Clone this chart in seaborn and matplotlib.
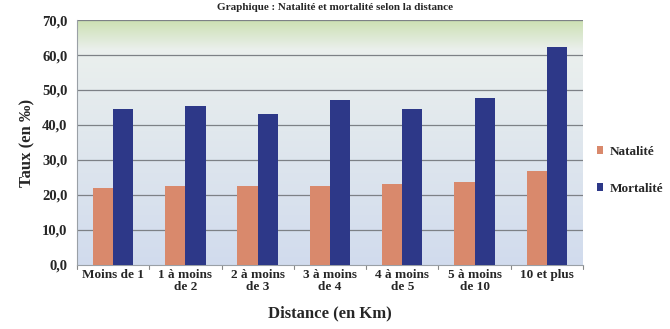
import numpy as np
import pandas as pd
import matplotlib
matplotlib.use("Agg")
import matplotlib.pyplot as plt
import seaborn as sns

categories = ["Moins de 1", "1 à moins\nde 2", "2 à moins\nde 3", "3 à moins\nde 4",
              "4 à moins\nde 5", "5 à moins\nde 10", "10 et plus"]
natalite = [22.1, 22.5, 22.6, 22.6, 23.0, 23.6, 26.8]
mortalite = [44.6, 45.4, 43.2, 47.0, 44.6, 47.6, 62.4]
series_names = ["Natalité", "Mortalité"]
yticks = [0, 10, 20, 30, 40, 50, 60, 70]
ytick_labels = ["0,0", "10,0", "20,0", "30,0", "40,0", "50,0", "60,0", "70,0"]

df = pd.DataFrame({
    "Distance": categories * 2,
    "Taux": natalite + mortalite,
    "Série": [series_names[0]] * len(categories) + [series_names[1]] * len(categories),
})

sns.set_style("white")
plt.rcParams["font.family"] = ["Liberation Serif", "DejaVu Serif"]
plt.rcParams["font.weight"] = "bold"

fig = plt.figure(figsize=(6.70, 3.29), dpi=100)
ax = fig.add_axes([0.115, 0.195, 0.755, 0.744])

# background gradient (green top band -> light blue-gray)
grad = np.ones((256, 1, 3))
top = np.array([0.80, 0.88, 0.70])
mid = np.array([0.92, 0.94, 0.93])
bot = np.array([0.82, 0.86, 0.93])
t = np.linspace(0, 1, 256)
for i, v in enumerate(t):
    if v < 0.12:
        c = top + (mid - top) * (v / 0.12)
    else:
        c = mid + (bot - mid) * ((v - 0.12) / 0.88)
    grad[i, 0] = c
ax.imshow(grad, extent=[-0.5, 6.5, 0, 70], aspect="auto", zorder=0, origin="upper")

palette = {"Natalité": "#d9896c", "Mortalité": "#2d3888"}
sns.barplot(data=df, x="Distance", y="Taux", hue="Série", palette=palette,
            width=0.56, ax=ax, zorder=3, edgecolor="none", saturation=1)

ax.set_xlim(-0.5, 6.5)
ax.set_ylim(0, 70)
ax.set_yticks(yticks)
ax.set_yticklabels(ytick_labels, fontsize=10.5, fontweight="bold")
ax.tick_params(axis="y", length=0, pad=7)
ax.tick_params(axis="x", length=0, pad=3)
ax.set_xticks(range(len(categories)))
ax.set_xticklabels(categories, fontsize=9.5, fontweight="bold", linespacing=1.0)
for y in yticks[1:]:
    ax.axhline(y, color="#7d8186", lw=0.9, zorder=1)
for x in np.arange(-0.5, 7, 1):
    ax.plot([x, x], [-1.2, 0], color="#888888", lw=0.8, clip_on=False, zorder=2)

for s in ["top", "right"]:
    ax.spines[s].set_visible(False)
ax.spines["left"].set_color("#9aa0a6")
ax.spines["bottom"].set_color("#9aa0a6")

ax.set_ylabel("Taux (en ‰)", fontsize=12, fontweight="bold", labelpad=5)
ax.set_xlabel("Distance (en Km)", fontsize=12, fontweight="bold", labelpad=9)

handles, labels = ax.get_legend_handles_labels()
ax.legend(handles, labels, loc="center left", bbox_to_anchor=(0.877, 0.483),
          bbox_transform=fig.transFigure, frameon=False, fontsize=9.5,
          handlelength=0.5, handleheight=0.5, labelspacing=1.9, handletextpad=0.5,
          borderpad=0.2)

fig.text(0.5, 0.978, "Graphique : Natalité et mortalité selon la distance",
         ha="center", va="center", fontsize=8, fontweight="bold")

fig.savefig("out.png", dpi=100, facecolor="white")
